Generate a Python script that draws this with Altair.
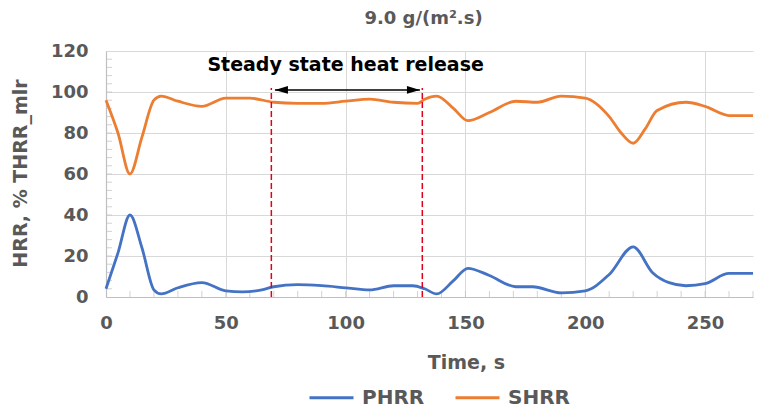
import altair as alt
import pandas as pd

# ---- data ----
shrr_t = [0, 5, 10, 15, 20, 23, 30, 40, 50, 60, 70, 80, 90, 100, 110, 120, 130, 133, 138,
          145, 151, 160, 171, 180, 190, 200, 210, 215, 220, 225, 230, 242, 250, 260, 270]
shrr_v = [96, 80, 60, 78, 96, 98, 95.5, 93, 97, 97, 95, 94.5, 94.5, 95.5, 96.5, 95, 94.5, 96.5, 98,
          92, 86, 90, 95.5, 95, 98, 97, 88, 80, 75, 82, 91, 95, 93, 88.5, 88.5]

phrr_t = [0, 5, 10, 15, 20, 23, 30, 40, 50, 57, 65, 70, 80, 90, 100, 110, 120, 128, 133, 138,
          145, 151, 160, 171, 178, 190, 200, 210, 220, 228, 235, 242, 250, 260, 270]
phrr_v = [4, 21.5, 40, 24, 3.5, 1.5, 4.5, 7, 3, 2.5, 3.5, 5, 6, 5.5, 4.5, 3.5, 5.5, 5.5, 4, 1.5,
          8, 14, 10.5, 5, 5, 2, 3, 11, 24.5, 12, 7, 5.5, 6.5, 11.5, 11.5]

series_names = ["PHRR", "SHRR"]
series_colors = ["#4472C4", "#ED7D31"]

x_ticks = [0, 50, 100, 150, 200, 250]
y_ticks = [0, 20, 40, 60, 80, 100, 120]
x_minor = list(range(10, 271, 10))
y_minor = list(range(4, 120, 4))

steady_start = 69
steady_end = 132
arrow_left = 70.5
arrow_right = 131
arrow_level = 101
dash_top = 102
label_text = "Steady state heat release"
label_x = 100
label_y = 113

title_text = "9.0 g/(m².s)"
x_title = "Time, s"
y_title = "HRR, % THRR_mlr"

# ---- tables ----
lines_df = pd.DataFrame(
    [{"t": t, "v": v, "series": "PHRR"} for t, v in zip(phrr_t, phrr_v)]
    + [{"t": t, "v": v, "series": "SHRR"} for t, v in zip(shrr_t, shrr_v)]
)

W, H = 647, 246
FONT = "DejaVu Sans"
GRAY = "#595959"

xscale = alt.Scale(domain=[0, 270], nice=False, zero=False)
yscale = alt.Scale(domain=[0, 120], nice=False)

lines = alt.Chart(lines_df).mark_line(interpolate="monotone", strokeWidth=2.8).encode(
    x=alt.X("t:Q", scale=xscale,
            axis=alt.Axis(values=x_ticks, title=x_title, grid=True, ticks=False,
                          labelFlush=False, labelPadding=17, titleX=360, titleY=65,
                          titleAlign="center", titleBaseline="middle")),
    y=alt.Y("v:Q", scale=yscale,
            axis=alt.Axis(values=y_ticks, title=y_title, grid=True, ticks=False,
                          labelPadding=18, titleX=-86, titleY=122, titleAngle=-90,
                          titleAlign="center", titleBaseline="middle")),
    color=alt.Color("series:N",
                    scale=alt.Scale(domain=series_names, range=series_colors),
                    legend=alt.Legend(title=None, orient="none", direction="horizontal",
                                      legendX=202, legendY=323, symbolType="stroke",
                                      symbolSize=1936, symbolStrokeWidth=3,
                                      labelFont=FONT, labelFontSize=20,
                                      labelFontWeight="bold", labelColor=GRAY,
                                      columnPadding=24, labelOffset=7)),
)

xminor_df = pd.DataFrame({"t": x_minor})
xminor = alt.Chart(xminor_df).mark_tick(color="#BFBFBF", orient="vertical", size=6, thickness=1).encode(
    x=alt.X("t:Q", scale=xscale), y=alt.value(H - 3)
)
yminor_df = pd.DataFrame({"v": y_minor})
yminor = alt.Chart(yminor_df).mark_tick(color="#BFBFBF", orient="horizontal", size=6, thickness=1).encode(
    y=alt.Y("v:Q", scale=yscale), x=alt.value(3)
)

vlines_df = pd.DataFrame({"t": [steady_start, steady_end], "y0": [0, 0], "y1": [dash_top, dash_top]})
vlines = alt.Chart(vlines_df).mark_rule(color="#E3001B", strokeWidth=1.5, strokeDash=[6, 3]).encode(
    x=alt.X("t:Q", scale=xscale), y=alt.Y("y0:Q", scale=yscale), y2="y1:Q"
)

arrow_df = pd.DataFrame({"a": [arrow_left], "b": [arrow_right], "y": [arrow_level]})
arrow_line = alt.Chart(arrow_df).mark_rule(color="black", strokeWidth=1.5).encode(
    x=alt.X("a:Q", scale=xscale), x2="b:Q", y=alt.Y("y:Q", scale=yscale)
)
head_l = alt.Chart(arrow_df).mark_point(shape="M0,0L2,-0.6L2,0.6Z", filled=True, color="black",
                                         size=169, opacity=1).encode(
    x=alt.X("a:Q", scale=xscale), y=alt.Y("y:Q", scale=yscale)
)
head_r = alt.Chart(arrow_df).mark_point(shape="M0,0L-2,-0.6L-2,0.6Z", filled=True, color="black",
                                         size=169, opacity=1).encode(
    x=alt.X("b:Q", scale=xscale), y=alt.Y("y:Q", scale=yscale)
)

label_df = pd.DataFrame({"t": [label_x], "v": [label_y], "txt": [label_text]})
label = alt.Chart(label_df).mark_text(font=FONT, fontSize=19, fontWeight="bold", color="black",
                                      align="center", baseline="middle").encode(
    x=alt.X("t:Q", scale=xscale), y=alt.Y("v:Q", scale=yscale), text="txt:N"
)

chart = alt.layer(xminor, yminor, lines, vlines, arrow_line, head_l, head_r, label).properties(
    width=W, height=H,
    title=alt.TitleParams(title_text, font=FONT, fontSize=18, fontWeight="bold", color=GRAY,
                          anchor="middle", offset=14, dx=-6),
    autosize=alt.AutoSizeParams(type="none"),
    padding={"left": 106, "top": 51, "right": 5, "bottom": 113},
    background="white",
).configure_view(stroke=None).configure_axis(
    labelFont=FONT, labelFontSize=18, labelFontWeight="bold", labelColor=GRAY,
    titleFont=FONT, titleFontSize=19, titleFontWeight="bold", titleColor=GRAY,
    gridColor="#D9D9D9", gridWidth=1, domainColor="#BFBFBF", domainWidth=1.2,
)

chart.save("out.html", embed_options={"renderer": "svg", "actions": False})
